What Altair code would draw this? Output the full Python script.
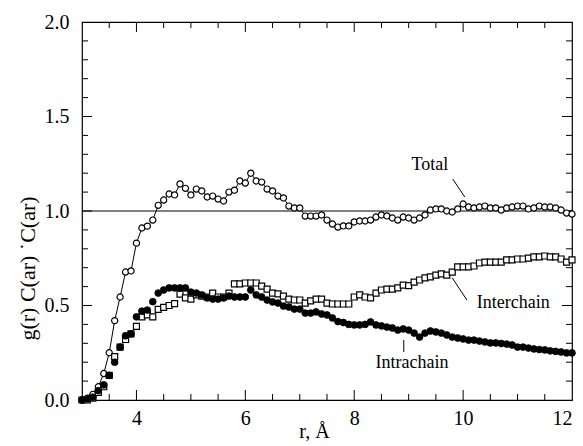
import altair as alt
import pandas as pd

# ---------------- data ----------------
R = [3.0, 3.1, 3.2, 3.3, 3.4, 3.5, 3.6, 3.7, 3.8, 3.9,
     4.0, 4.1, 4.2, 4.3, 4.4, 4.5, 4.6, 4.7, 4.8, 4.9,
     5.0, 5.1, 5.2, 5.3, 5.4, 5.5, 5.6, 5.7, 5.8, 5.9,
     6.0, 6.1, 6.2, 6.3, 6.4, 6.5, 6.6, 6.7, 6.8, 6.9,
     7.0, 7.1, 7.2, 7.3, 7.4, 7.5, 7.6, 7.7, 7.8, 7.9,
     8.0, 8.1, 8.2, 8.3, 8.4, 8.5, 8.6, 8.7, 8.8, 8.9,
     9.0, 9.1, 9.2, 9.3, 9.4, 9.5, 9.6, 9.7, 9.8, 9.9,
     10.0, 10.1, 10.2, 10.3, 10.4, 10.5, 10.6, 10.7, 10.8, 10.9,
     11.0, 11.1, 11.2, 11.3, 11.4, 11.5, 11.6, 11.7, 11.8, 11.9,
     12.0]

TOTAL = [0.00, 0.01, 0.03, 0.07, 0.14, 0.25, 0.42, 0.545, 0.677, 0.683,
         0.83, 0.91, 0.92, 0.952, 1.03, 1.058, 1.09, 1.085, 1.143, 1.12,
         1.085, 1.116, 1.106, 1.074, 1.079, 1.063, 1.053, 1.10, 1.11, 1.159,
         1.148, 1.20, 1.159, 1.153, 1.116, 1.106, 1.079, 1.069, 1.026, 1.016,
         1.016, 0.973, 0.973, 0.973, 0.979, 0.952, 0.931, 0.915, 0.921, 0.921,
         0.942, 0.947, 0.947, 0.952, 0.968, 0.979, 0.974, 0.963, 0.952, 0.968,
         0.963, 0.952, 0.963, 0.979, 1.005, 1.011, 1.011, 1.0, 0.995, 1.011,
         1.037, 1.021, 1.016, 1.021, 1.026, 1.016, 1.016, 1.005, 1.016, 1.021,
         1.026, 1.026, 1.011, 1.016, 1.026, 1.021, 1.021, 1.016, 1.005, 0.989,
         0.984]

INTER = [0.0, 0.0, 0.01, 0.04, 0.07, 0.13, 0.23, 0.28, 0.32, 0.35,
         0.39, 0.44, 0.45, 0.44, 0.48, 0.49, 0.50, 0.51, 0.56, 0.54,
         0.534, 0.556, 0.55, 0.545, 0.566, 0.545, 0.545, 0.566, 0.614, 0.614,
         0.619, 0.619, 0.619, 0.603, 0.587, 0.566, 0.561, 0.55, 0.534, 0.529,
         0.529, 0.513, 0.524, 0.534, 0.534, 0.513, 0.508, 0.508, 0.508, 0.508,
         0.545, 0.556, 0.545, 0.54, 0.566, 0.582, 0.587, 0.587, 0.593, 0.608,
         0.605, 0.624, 0.635, 0.646, 0.651, 0.661, 0.667, 0.661, 0.677, 0.704,
         0.704, 0.704, 0.709, 0.725, 0.73, 0.73, 0.73, 0.73, 0.741, 0.741,
         0.746, 0.746, 0.751, 0.757, 0.757, 0.762, 0.757, 0.757, 0.746, 0.730,
         0.741]

INTRA = [0.0, 0.005, 0.015, 0.05, 0.08, 0.13, 0.20, 0.28, 0.34, 0.35,
         0.44, 0.47, 0.476, 0.52, 0.566, 0.582, 0.593, 0.593, 0.593, 0.593,
         0.571, 0.566, 0.556, 0.54, 0.534, 0.534, 0.54, 0.55, 0.545, 0.545,
         0.545, 0.582, 0.556, 0.545, 0.529, 0.519, 0.513, 0.497, 0.492, 0.481,
         0.481, 0.46, 0.46, 0.466, 0.455, 0.45, 0.434, 0.415, 0.41, 0.40,
         0.397, 0.397, 0.40, 0.413, 0.397, 0.392, 0.386, 0.381, 0.37, 0.376,
         0.37, 0.354, 0.333, 0.354, 0.365, 0.36, 0.354, 0.344, 0.333, 0.328,
         0.323, 0.317, 0.317, 0.312, 0.307, 0.302, 0.302, 0.299, 0.296, 0.291,
         0.28, 0.28, 0.275, 0.27, 0.267, 0.265, 0.26, 0.257, 0.254, 0.249,
         0.249]

X_LABELS = [4, 6, 8, 10, 12]
Y_LABELS = [0.0, 0.5, 1.0, 1.5, 2.0]
X_MINOR = [3.5, 4.5, 5.0, 5.5, 6.5, 7.0, 7.5, 8.5, 9.0, 9.5, 10.5, 11.0, 11.5]
X_MAJOR = [4, 6, 8, 10]
Y_MINOR = [0.1, 0.2, 0.3, 0.4, 0.6, 0.7, 0.8, 0.9, 1.1, 1.2, 1.3, 1.4,
           1.6, 1.7, 1.8, 1.9]
Y_MAJOR = [0.5, 1.0, 1.5]
REF_LEVEL = [1.0]

ANN_TEXT = ["Total", "Interchain", "Intrachain"]
ANN_X = [9.39, 10.92, 9.06]
ANN_Y = [1.243, 0.513, 0.196]
LEAD_X1 = [9.81, 9.80, 8.91]
LEAD_Y1 = [1.169, 0.646, 0.317]
LEAD_X2 = [10.03, 10.07, 8.91]
LEAD_Y2 = [1.074, 0.529, 0.254]

# ---------------- chart ----------------
W, H = 490, 378
FONT = "Liberation Serif"

xs = alt.Scale(domain=[3, 12], nice=False, zero=False)
ys = alt.Scale(domain=[0, 2], nice=False, zero=False)

x_axis = alt.Axis(values=X_LABELS, ticks=False, tickSize=0, domain=False, grid=False,
                  labelFont=FONT, labelFontSize=20, labelColor="black", labelPadding=8,
                  title="r,  Å", titleFont=FONT, titleFontSize=20, titleFontWeight="normal",
                  titleColor="black", titleX=232, titleY=37, titleBaseline="alphabetic",
                  titleAlign="center")
y_axis = alt.Axis(values=Y_LABELS, format=".1f", ticks=False, tickSize=0, domain=False,
                  grid=False, labelFont=FONT, labelFontSize=20, labelColor="black",
                  labelPadding=13, title="g(r)   C(ar)   \u02d9C(ar)", titleFont=FONT,
                  titleFontSize=22, titleFontWeight="normal", titleColor="black",
                  titleAngle=270, titleX=-55, titleY=246, titleAlign="center",
                  titleBaseline="middle")


def X(field):
    return alt.X(field, type="quantitative", scale=xs, axis=x_axis)


def Y(field):
    return alt.Y(field, type="quantitative", scale=ys, axis=y_axis)


series = pd.DataFrame({"r": R, "total": TOTAL, "inter": INTER, "intra": INTRA})
base = alt.Chart(series)

ref = alt.Chart(pd.DataFrame({"v": REF_LEVEL})).mark_rule(
    color="black", strokeWidth=1).encode(y=Y("v"))

total_line = base.mark_line(color="black", strokeWidth=1).encode(x=X("r"), y=Y("total"))
total_pts = base.mark_point(shape="circle", filled=True, fill="white", stroke="black",
                            strokeWidth=1.2, size=38, opacity=1).encode(x=X("r"), y=Y("total"))
inter_pts = base.mark_point(shape="square", filled=True, fill="white", stroke="black",
                            strokeWidth=1.2, size=36, opacity=1).encode(x=X("r"), y=Y("inter"))
intra_pts = base.mark_point(shape="circle", filled=True, fill="black", stroke="black",
                            strokeWidth=0.8, size=46, opacity=1).encode(x=X("r"), y=Y("intra"))

ann = pd.DataFrame({"t": ANN_TEXT, "x": ANN_X, "y": ANN_Y,
                    "x1": LEAD_X1, "y1": LEAD_Y1, "x2": LEAD_X2, "y2": LEAD_Y2})
ann_text = alt.Chart(ann).mark_text(font=FONT, fontSize=18, color="black",
                                    align="center", baseline="middle").encode(
    x=X("x"), y=Y("y"), text="t:N")
ann_lead = alt.Chart(ann).mark_rule(color="black", strokeWidth=1).encode(
    x=X("x1"), y=Y("y1"), x2="x2:Q", y2="y2:Q")


def xticks(vals, length):
    d = pd.DataFrame({"v": vals})
    bottom = alt.Chart(d).mark_rule(color="black", strokeWidth=1).encode(
        x=X("v"), y=alt.value(H), y2=alt.value(H - length))
    top = alt.Chart(d).mark_rule(color="black", strokeWidth=1).encode(
        x=X("v"), y=alt.value(0), y2=alt.value(length))
    return [bottom, top]


def yticks(vals, length):
    d = pd.DataFrame({"v": vals})
    left = alt.Chart(d).mark_rule(color="black", strokeWidth=1).encode(
        y=Y("v"), x=alt.value(0), x2=alt.value(length))
    right = alt.Chart(d).mark_rule(color="black", strokeWidth=1).encode(
        y=Y("v"), x=alt.value(W), x2=alt.value(W - length))
    return [left, right]


tick_layers = xticks(X_MINOR, 6) + xticks(X_MAJOR, 10) + yticks(Y_MINOR, 6) + yticks(Y_MAJOR, 10)

chart = alt.layer(
    total_line, ref, *tick_layers, total_pts, inter_pts, intra_pts,
    ann_lead, ann_text
).properties(
    width=W, height=H,
    padding={"left": 82, "top": 22, "right": 11, "bottom": 46},
    autosize="none",
    background="white",
).configure_view(
    stroke="black", strokeWidth=1.2
)

chart.save("out.html", embed_options={"renderer": "svg", "actions": False})
